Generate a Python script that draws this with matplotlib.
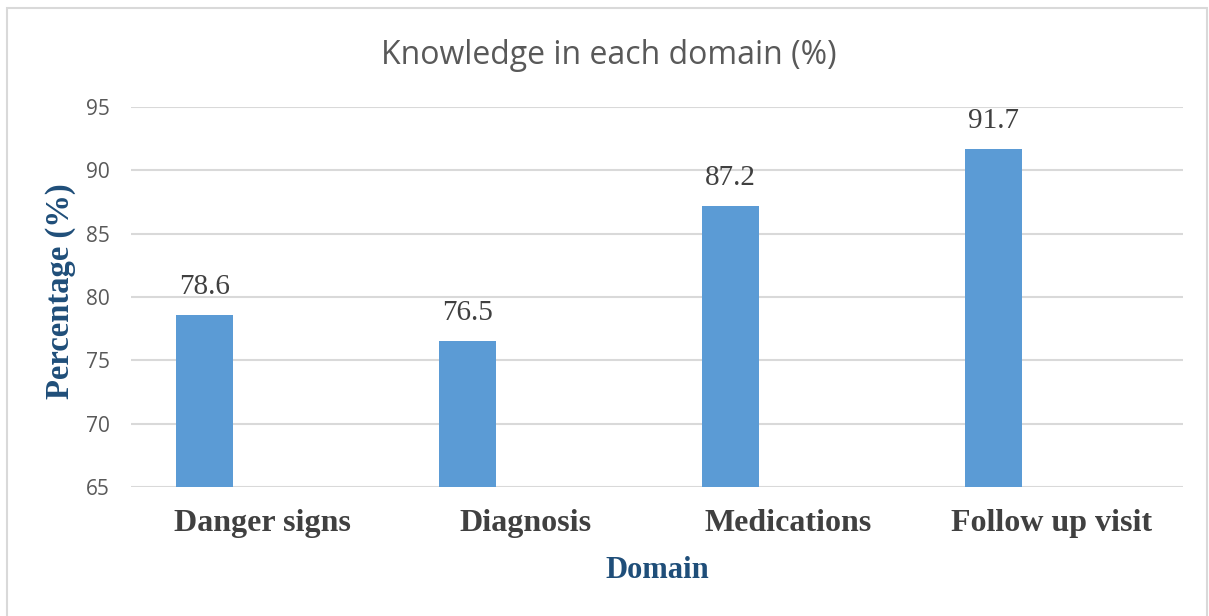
import matplotlib.pyplot as plt
from matplotlib.patches import Rectangle
import numpy as np

# ===================== DATA =====================
domains = ["Danger signs", "Diagnosis", "Medications", "Follow up visit"]
knowledge_pct = [78.6, 76.5, 87.2, 91.7]
y_ticks = [65, 70, 75, 80, 85, 90, 95]

BAR_COLOR = "#5B9BD5"
GRID_COLOR = "#D9D9D9"
TEXT_GRAY = "#595959"
LABEL_DARK = "#404040"
AXIS_BLUE = "#1F4E79"

W, H = 1209, 616
fig = plt.figure(figsize=(W / 100, H / 100), dpi=100)
ax = fig.add_axes([131 / W, 1 - 487 / H, (1183 - 131) / W, (487 - 107) / H])

# chart frame like an Excel chart area
fig.patches.append(Rectangle((7 / W, -0.05), 1200 / W, 1 - 8 / H + 0.05,
                             transform=fig.transFigure, fill=False,
                             edgecolor="#D9D9D9", linewidth=1.5))

x = np.arange(len(domains))
bar_w = 0.216
offset = -0.222
ax.bar(x + offset, [v - 65 for v in knowledge_pct], bottom=65,
       width=bar_w, color=BAR_COLOR, zorder=3)

for xi, v in zip(x, knowledge_pct):
    ax.text(xi + offset, v + 1.2, f"{v:.1f}", ha="center", va="bottom",
            fontsize=21, family="Liberation Serif", color=LABEL_DARK)

ax.set_xlim(-0.5, len(domains) - 0.5)
ax.set_ylim(65, 95)
ax.set_yticks(y_ticks)
ax.set_yticklabels([str(t) for t in y_ticks], fontsize=15, family="Open Sans",
                   color=TEXT_GRAY)
ax.set_xticks(x)
ax.set_xticklabels(domains, fontsize=23, family="Liberation Serif",
                   fontweight="bold", color=LABEL_DARK)
ax.tick_params(axis="both", length=0)
ax.tick_params(axis="y", pad=15)
ax.tick_params(axis="x", pad=16)

ax.grid(axis="y", color=GRID_COLOR, linewidth=1.5, zorder=0)
for s in ax.spines.values():
    s.set_visible(False)

# axis titles
fig.text(60 / W, 1 - 291 / H, "Percentage (%)", rotation=90,
         ha="center", va="center", fontsize=23.5, family="Liberation Serif",
         fontweight="bold", color=AXIS_BLUE)
fig.text(657 / W, 1 - 570 / H, "Domain",
         ha="center", va="center", fontsize=22, family="Liberation Serif",
         fontweight="bold", color=AXIS_BLUE)

fig.text(608.5 / W, 1 - 55 / H, "Knowledge in each domain (%)",
         ha="center", va="center", fontsize=23, family="Open Sans",
         color=TEXT_GRAY)

plt.savefig("out.png", dpi=100)
